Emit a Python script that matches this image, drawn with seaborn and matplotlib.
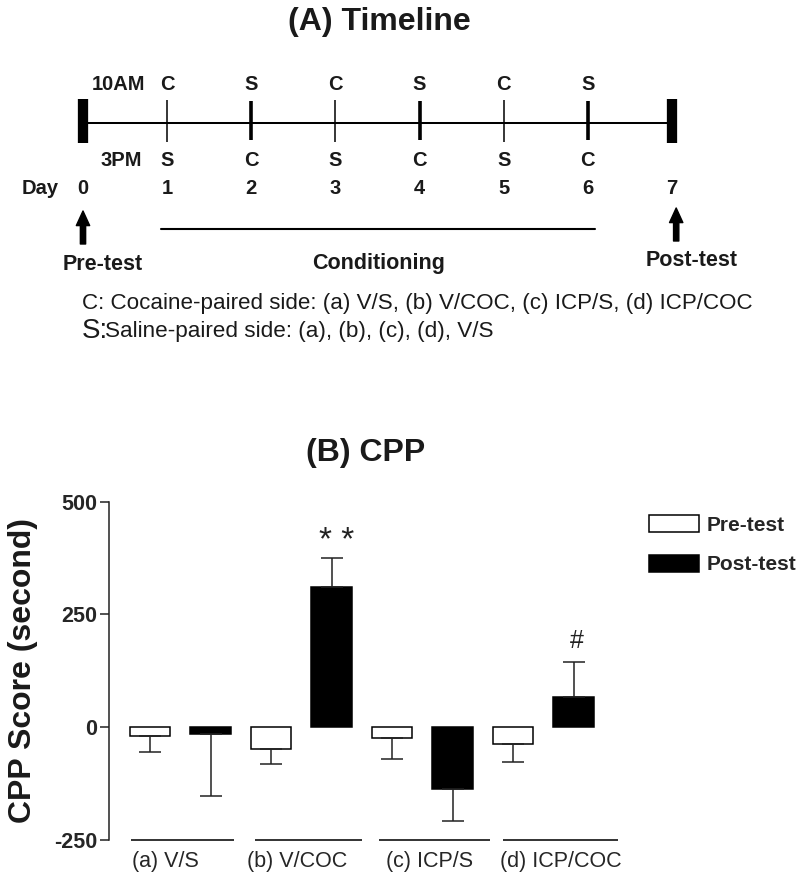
import numpy as np
import pandas as pd
import matplotlib
matplotlib.use("Agg")
import matplotlib.pyplot as plt
import seaborn as sns
from matplotlib.patches import Patch

# ---------------- data ----------------
groups = ["(a) V/S", "(b) V/COC", "(c) ICP/S", "(d) ICP/COC"]
phases = ["Pre-test", "Post-test"]
pre_mean = [-20, -49, -24, -38]
pre_sem = [36, 32, 47, 39]
post_mean = [-15, 310, -137, 66]
post_sem = [138, 66, 70, 78]
sig_marks = ["", "**", "", "#"]          # above post-test bars

days = [0, 1, 2, 3, 4, 5, 6, 7]
am_labels = ["", "C", "S", "C", "S", "C", "S", ""]
pm_labels = ["", "S", "C", "S", "C", "S", "C", ""]
conditioning_days = [1, 2, 3, 4, 5, 6]
yticks = [-250, 0, 250, 500]

# ---------------- style ----------------
sns.set_theme(style="white")
plt.rcParams["font.family"] = ["Liberation Sans", "DejaVu Sans"]
plt.rcParams["axes.unicode_minus"] = False

W, H = 800, 877
fig = plt.figure(figsize=(W / 100, H / 100), dpi=100)

# ---------------- (A) timeline ----------------
ax_t = fig.add_axes([0, 0, 1, 1])
px_day = 84.14
x0 = 83
ax_t.set_xlim(-x0 / px_day, (W - x0) / px_day)
ax_t.set_ylim(H, 0)
ax_t.axis("off")

line_y = 122.7
ax_t.plot([days[0], days[-1]], [line_y, line_y], color="black", lw=1.45,
          solid_capstyle="butt")
lab_kw = dict(ha="center", va="center", fontsize=14.5, fontweight="bold",
              color="#1a1a1a")
for d, am, pm in zip(days, am_labels, pm_labels):
    if d in (days[0], days[-1]):
        ax_t.plot([d, d], [99, 142.5], color="black", lw=7.4,
                  solid_capstyle="butt")
    elif am == "S":
        ax_t.plot([d, d], [100.5, 139.5], color="black", lw=2.6,
                  solid_capstyle="butt")
    else:
        ax_t.plot([d, d], [100, 141.5], color="black", lw=1.1,
                  solid_capstyle="butt")
    if am:
        ax_t.text(d, 85, am, **lab_kw)
    if pm:
        ax_t.text(d, 161, pm, **lab_kw)
    ax_t.text(d, 189, str(d), **lab_kw)

ax_t.text(0.416, 85, "10AM", **lab_kw)
ax_t.text(0.46, 161, "3PM", **lab_kw)
ax_t.text(-0.51, 188, "Day", **lab_kw)

arrow_kw = dict(width=3.8, headwidth=9.6, headlength=10.5, color="black",
                shrink=0)
ax_t.annotate("", xy=(days[0], 211), xytext=(days[0], 244),
              arrowprops=arrow_kw)
ax_t.annotate("", xy=(days[-1] + 0.05, 208), xytext=(days[-1] + 0.05, 241),
              arrowprops=arrow_kw)
ax_t.plot([conditioning_days[0] - 0.07, conditioning_days[-1] + 0.09],
          [229.3, 229.3], color="black", lw=1.5)

big_kw = dict(ha="center", va="center", fontsize=15.5, fontweight="bold",
              color="#1a1a1a")
ax_t.text(0.23, 264, "Pre-test", **big_kw)
ax_t.text(3.51, 263, "Conditioning", **big_kw)
ax_t.text(7.23, 260, "Post-test", **big_kw)

ax_t.text(-0.015, 304, "C: Cocaine-paired side: (a) V/S, (b) V/COC, "
          "(c) ICP/S, (d) ICP/COC", ha="left", va="center", fontsize=16.1,
          color="#1a1a1a")
ax_t.text(-0.015, 331, "S:", ha="left", va="center", fontsize=20,
          color="#1a1a1a")
ax_t.text(0.262, 331, "Saline-paired side: (a), (b), (c), (d), V/S",
          ha="left", va="center", fontsize=16.2, color="#1a1a1a")

fig.text(379 / W, 1 - 22 / H, "(A) Timeline", ha="center", va="center",
         fontsize=23, fontweight="bold", color="#1a1a1a")
fig.text(365.5 / W, 1 - 453 / H, "(B) CPP", ha="center", va="center",
         fontsize=23, fontweight="bold", color="#1a1a1a")

# ---------------- (B) CPP bar chart ----------------
ax_w = 540
ax = fig.add_axes([109 / W, (H - 840) / H, ax_w / W, 338.3 / H])
ax.patch.set_alpha(0)

df = pd.DataFrame({
    "group": groups * 2,
    "phase": [phases[0]] * len(groups) + [phases[1]] * len(groups),
    "score": pre_mean + post_mean,
})
palette = {"Pre-test": "white", "Post-test": "black"}
sns.barplot(data=df, x="group", y="score", hue="phase", order=groups,
            hue_order=phases, palette=palette, edgecolor="black",
            linewidth=1.1, width=1.0, gap=0.33, errorbar=None, legend=False,
            ax=ax)

ax.set_xlim(-0.59, -0.59 + ax_w / 121)
ax.set_ylim(yticks[0], yticks[-1])
ax.set_yticks(yticks)

# error bars (one-sided, away from zero) + significance marks
bars = sorted(ax.patches, key=lambda p: p.get_x())
means = [v for pair in zip(pre_mean, post_mean) for v in pair]
sems = [v for pair in zip(pre_sem, post_sem) for v in pair]
marks = [v for pair in zip([""] * len(groups), sig_marks) for v in pair]
for p, m, s, mk in zip(bars, means, sems, marks):
    xc = p.get_x() + p.get_width() / 2
    yerr = [[0], [s]] if m >= 0 else [[s], [0]]
    ax.errorbar(xc, m, yerr=yerr, fmt="none", ecolor="#222222",
                elinewidth=1.1, capsize=8, capthick=1.1, zorder=1)
    if mk == "**":
        ax.text(xc + 0.04, m + s + 16, " ".join(mk), ha="center",
                va="baseline", fontsize=24, color="#222222")
    elif mk:
        ax.text(xc + 0.03, m + s + 32, mk, ha="center", va="baseline",
                fontsize=18, color="#222222")

# group underlines and labels
ticks = [i * 1.088 - 0.12 for i in range(len(groups))]
for i, g in enumerate(groups):
    ax.plot([i * 1.025 - 0.41, i * 1.06 + 0.44], [yticks[0], yticks[0]],
            color="#333333", lw=1.4, clip_on=False, solid_capstyle="butt")
ax.set_xticks(ticks, groups)

for s in ["top", "right", "bottom"]:
    ax.spines[s].set_visible(False)
ax.spines["left"].set_color("#222222")
ax.spines["left"].set_linewidth(1.1)
ax.tick_params(axis="y", direction="out", length=6.5, width=1.1, pad=2,
               labelsize=15.5, color="#222222", left=True)
for t in ax.get_yticklabels():
    t.set_fontweight("bold")
ax.tick_params(axis="x", length=0, pad=8, labelsize=15.5)
ax.set_xlabel("")
ax.set_ylabel("CPP Score (second)", fontsize=23, fontweight="bold",
              color="#1a1a1a")
ax.yaxis.set_label_coords((38 - 109) / ax_w, 0.5)

handles = [Patch(facecolor=palette[ph], edgecolor="black", linewidth=1.1)
           for ph in phases]
fig.legend(handles, phases, loc="upper left",
           bbox_to_anchor=(649 / W, 1 - 515 / H), frameon=False,
           prop={"size": 15, "weight": "bold"}, handlelength=2.4,
           handleheight=0.9, handletextpad=0.35, labelspacing=0.95,
           borderpad=0, borderaxespad=0)

fig.savefig("out.png", dpi=100)
